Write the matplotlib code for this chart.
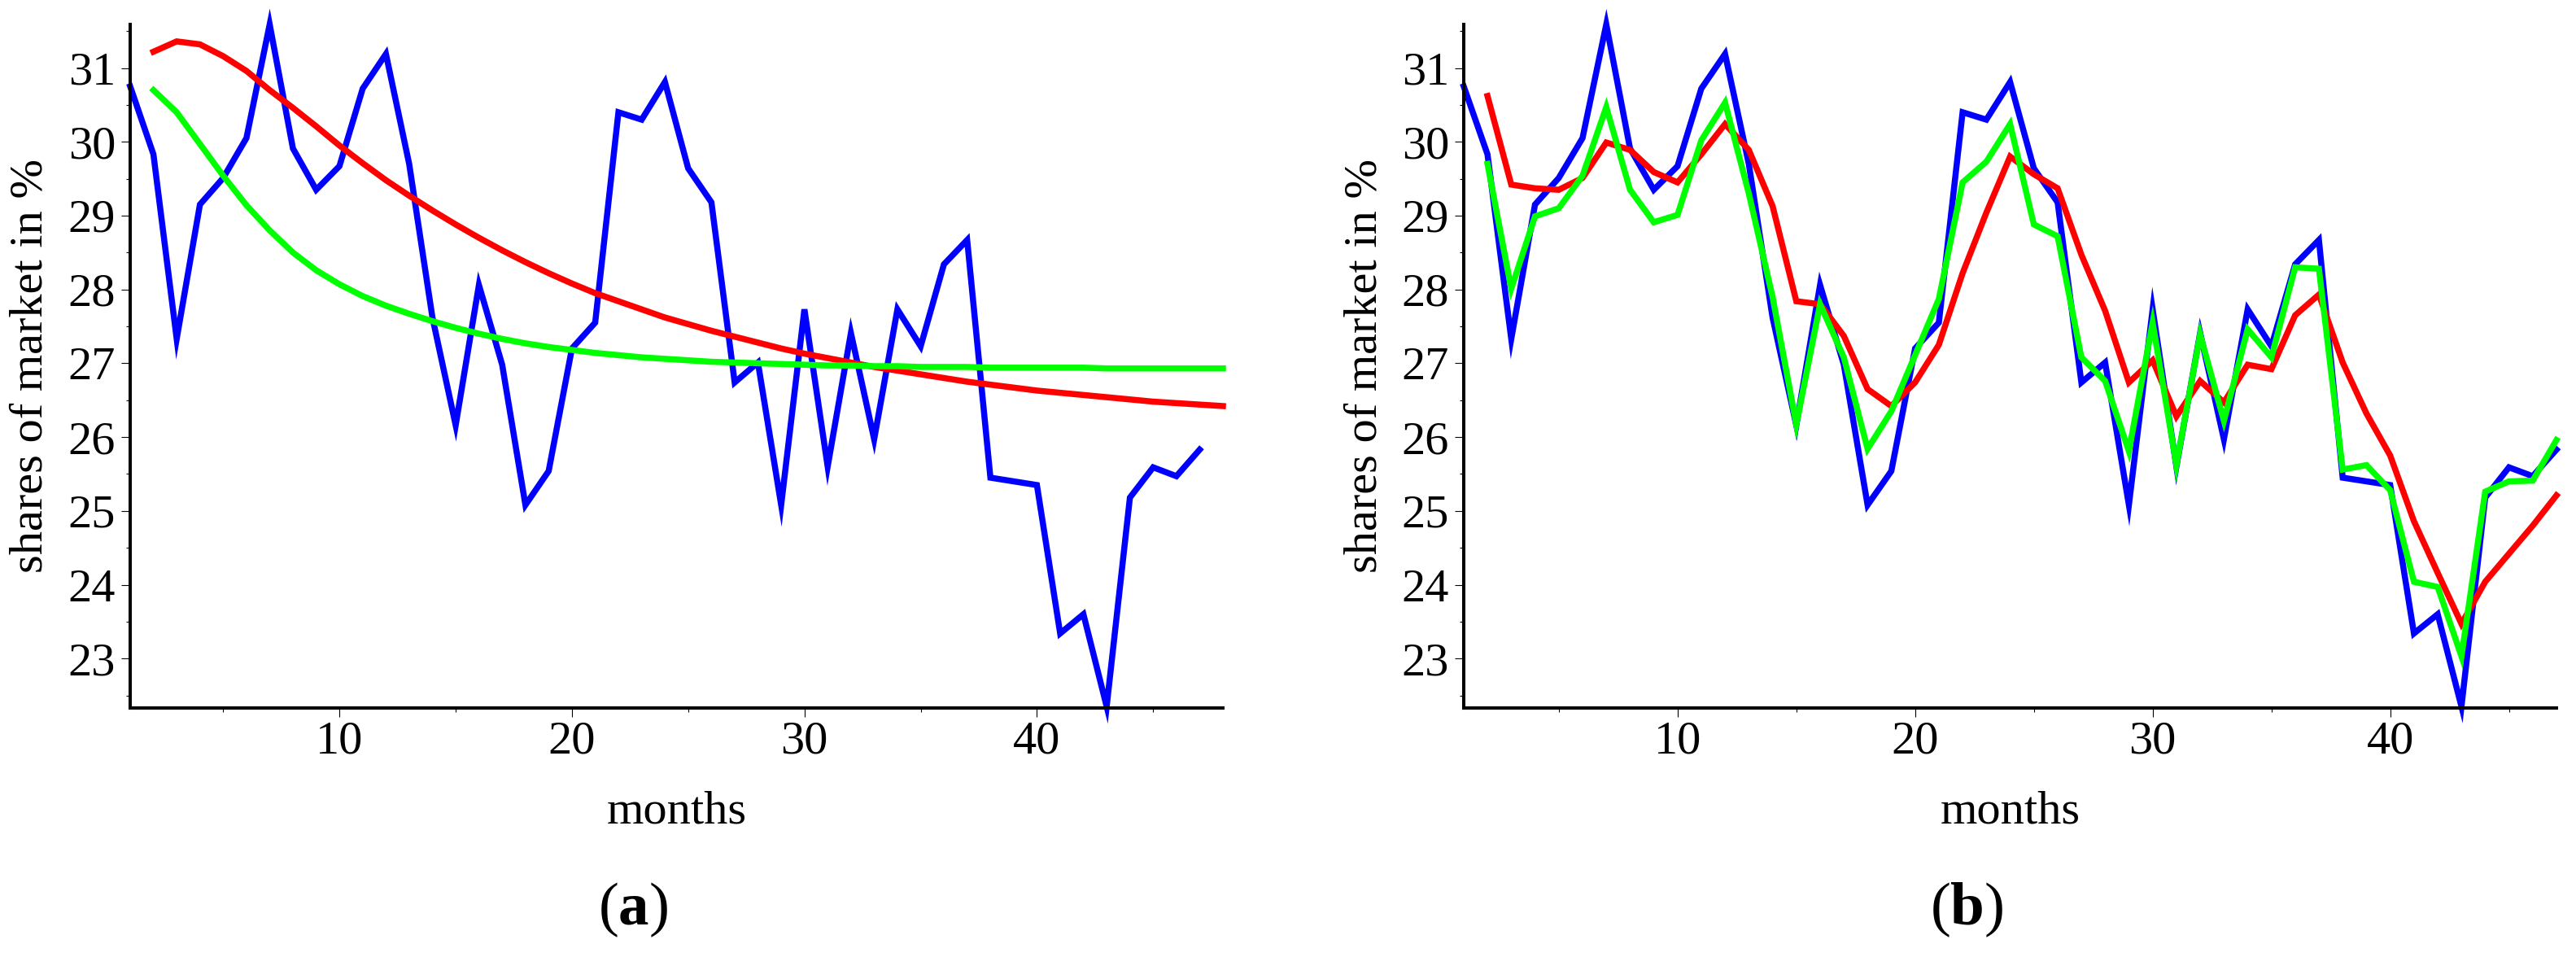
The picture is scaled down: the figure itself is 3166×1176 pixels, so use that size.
import matplotlib
matplotlib.use('Agg')
import matplotlib.pyplot as plt
from matplotlib.ticker import FixedLocator

# fonts
plt.rcParams['font.family'] = ['Liberation Serif', 'DejaVu Serif']
plt.rcParams['mathtext.fontset'] = 'custom'
plt.rcParams['mathtext.rm'] = 'Liberation Serif'
plt.rcParams['mathtext.bf'] = 'Liberation Serif:bold'

# data: months and market shares (%)
months_blue = list(range(1, 48))
shares = [30.75, 29.83, 27.33, 29.15, 29.51, 30.05, 31.59, 29.91, 29.35, 29.67,
          30.72, 31.19, 29.70, 27.62, 26.16, 28.06, 26.98, 25.08, 25.54, 27.20,
          27.55, 30.40, 30.30, 30.81, 29.64, 29.18, 26.74, 27.01, 25.08, 27.73,
          25.60, 27.41, 25.97, 27.73, 27.23, 28.34, 28.67, 25.45, 25.40, 25.35,
          23.34, 23.60, 22.35, 25.18, 25.59, 25.47, 25.83]

# (a) fitted curves, months 2..48
months_a = list(range(2, 49))
red_a = [31.22, 31.36, 31.32, 31.16, 30.96, 30.70, 30.46, 30.21, 29.95, 29.71,
         29.48, 29.27, 29.07, 28.88, 28.70, 28.53, 28.37, 28.22, 28.08, 27.95,
         27.84, 27.73, 27.62, 27.53, 27.44, 27.36, 27.28, 27.20, 27.13, 27.07,
         27.01, 26.95, 26.90, 26.85, 26.80, 26.75, 26.71, 26.67, 26.63, 26.60,
         26.57, 26.54, 26.51, 26.48, 26.46, 26.44, 26.42]
green_a = [30.70, 30.40, 29.97, 29.54, 29.14, 28.80, 28.50, 28.26, 28.07, 27.91,
           27.78, 27.67, 27.57, 27.48, 27.40, 27.33, 27.27, 27.22, 27.18, 27.14,
           27.11, 27.08, 27.06, 27.04, 27.02, 27.01, 27.00, 26.99, 26.98, 26.97,
           26.97, 26.96, 26.96, 26.95, 26.95, 26.95, 26.94, 26.94, 26.94, 26.94,
           26.94, 26.93, 26.93, 26.93, 26.93, 26.93, 26.93]

# (b) one-step predictions, months 2..47
months_b = list(range(2, 48))
red_b = [30.62, 29.42, 29.37, 29.35, 29.51, 29.99, 29.89, 29.59, 29.45, 29.83,
         30.24, 29.89, 29.13, 27.84, 27.80, 27.37, 26.65, 26.42, 26.74, 27.25,
         28.22, 29.04, 29.80, 29.56, 29.37, 28.47, 27.71, 26.74, 27.04, 26.28,
         26.76, 26.47, 26.98, 26.92, 27.65, 27.93, 27.01, 26.32, 25.75, 24.86,
         24.16, 23.47, 24.04, 24.42, 24.80, 25.21]
green_b = [29.70, 28.01, 28.99, 29.10, 29.54, 30.47, 29.35, 28.91, 29.01, 30.02,
           30.53, 29.30, 27.90, 26.17, 27.80, 27.08, 25.84, 26.35, 27.11, 27.87,
           29.45, 29.73, 30.24, 28.88, 28.72, 27.08, 26.76, 25.81, 27.55, 25.62,
           27.39, 26.22, 27.46, 27.08, 28.30, 28.28, 25.56, 25.62, 25.28, 24.04,
           23.97, 23.03, 25.26, 25.40, 25.41, 25.96]

x_major = [10, 20, 30, 40]
x_minor = [5, 15, 25, 35, 45]
y_major = [23, 24, 25, 26, 27, 28, 29, 30, 31]
y_minor = [22.5, 23.5, 24.5, 25.5, 26.5, 27.5, 28.5, 29.5, 30.5, 31.5]

W, H = 3166, 1176
fig = plt.figure(figsize=(W / 100, H / 100), dpi=100)

lw = 5.4
fs = 42


def style_axes(ax, xmax):
    ax.set_xlim(1, xmax)
    ax.set_ylim(22.33, 31.59)
    for s in ['top', 'right']:
        ax.spines[s].set_visible(False)
    for s in ['left', 'bottom']:
        ax.spines[s].set_linewidth(2.9)
    ax.xaxis.set_major_locator(FixedLocator(x_major))
    ax.xaxis.set_minor_locator(FixedLocator(x_minor))
    ax.yaxis.set_major_locator(FixedLocator(y_major))
    ax.yaxis.set_minor_locator(FixedLocator(y_minor))
    ax.set_xticklabels([str(v) for v in x_major], fontfamily='Liberation Serif', fontsize=fs)
    ax.set_yticklabels([str(v) for v in y_major], fontfamily='Liberation Serif', fontsize=fs)
    ax.tick_params(which='major', length=8, width=0.8, pad=3)
    ax.tick_params(which='minor', length=3.5, width=0.8)
    ax.tick_params(axis='y', which='major', pad=5)


def draw_panel(rect_px, xmax, red_x, red_y, green_x, green_y, tag):
    x0, x1 = rect_px
    ax = fig.add_axes([x0 / W, 1 - 870 / H, (x1 - x0) / W, (870 - 30) / H])
    ax.plot(months_blue, shares, color='#0000ff', lw=lw, solid_joinstyle='miter', clip_on=False)
    ax.plot(red_x, red_y, color='#ff0000', lw=lw, solid_joinstyle='miter', clip_on=False)
    ax.plot(green_x, green_y, color='#00ff00', lw=lw, solid_joinstyle='miter', clip_on=False)
    style_axes(ax, xmax)
    cx = (x0 + x1) / 2
    fig.text(cx / W, 1 - 1011 / H, 'months', ha='center', va='baseline', fontsize=fs)
    fig.text((x0 - 122) / W, 1 - 450 / H, 'shares of market in %', rotation=90,
             ha='center', va='center', fontsize=fs)
    fig.text((cx - 53) / W, 1 - 1136 / H, '($\\mathbf{' + tag + '}$)',
             ha='center', va='baseline', fontsize=54)
    return ax


# (a)
draw_panel((160, 1503), 48, months_a, red_a, months_a, green_a, 'a')
# (b)
draw_panel((1799, 3142), 47, months_b, red_b, months_b, green_b, 'b')

fig.savefig('out.png', dpi=100)
plt.close(fig)
